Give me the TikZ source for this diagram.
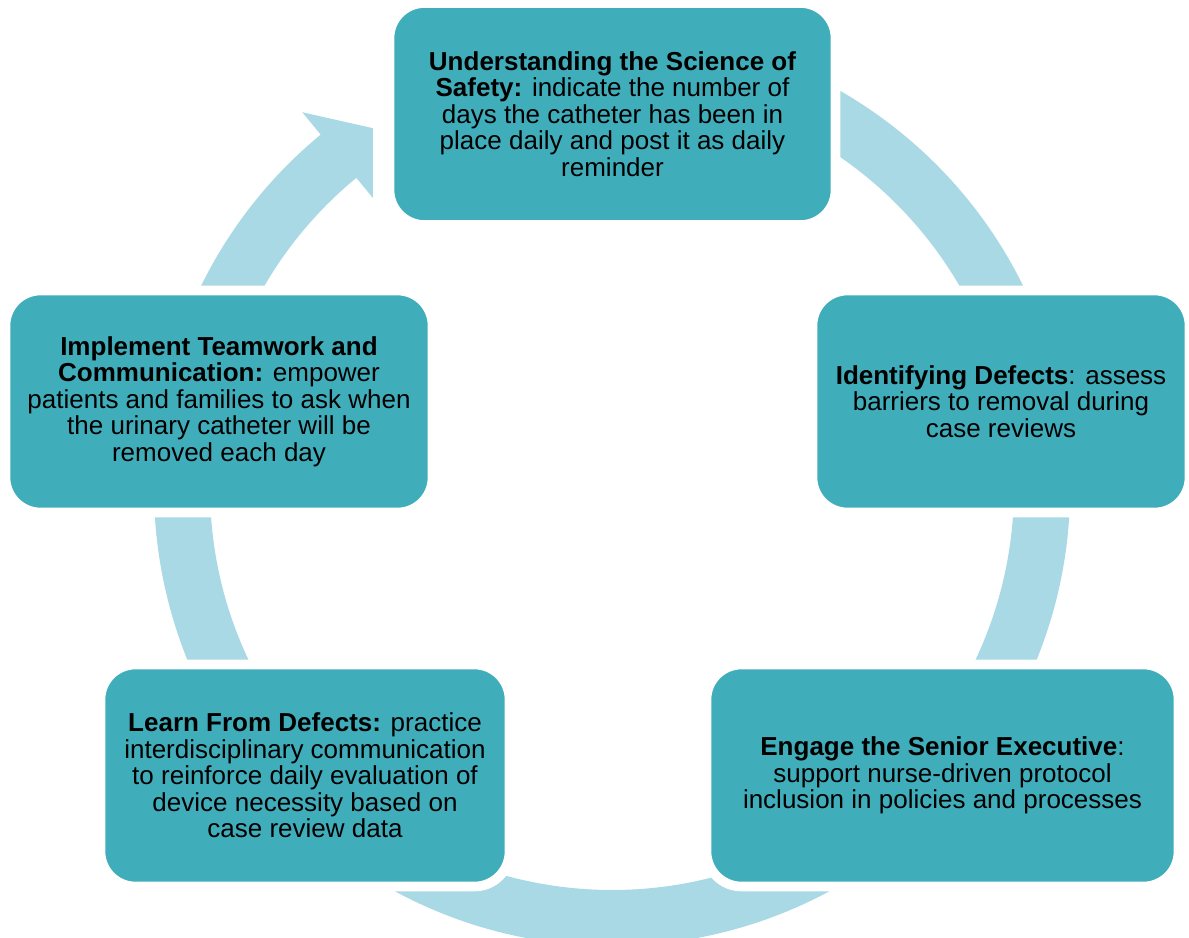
\documentclass[tikz,border=0pt]{standalone}
\usepackage{fontspec}
\setmainfont{Liberation Sans}
\usepackage{tikz}
\usetikzlibrary{calc}

\definecolor{stagefill}{HTML}{40ADBB}
\definecolor{ringfill}{HTML}{A8D9E5}

\begin{document}
\begin{tikzpicture}
    \tikzstyle{stage}=[rectangle, rounded corners=0.7cm, fill=stagefill, draw=white, line width=5.5pt,
        minimum height=4.44cm, align=center, text=black, font=\fontsize{14.8}{15.1}\selectfont]
    \useasboundingbox (0,0) rectangle (23.78,-18.76);
    \begin{scope}
    \clip (0,0) rectangle (23.78,-18.76);
    % the cycle ring, running clockwise into the top stage
    \coordinate (hub) at (12.24,-9.76);
    \fill[ringfill] ($(hub)+(100:9.16)$) arc[start angle=100, end angle=-230.5, radius=9.16]
        -- ($(hub)+(-230.5:9.74)$) -- ($(hub)+(-236.4:8.64)$) -- ($(hub)+(-230.5:7.52)$)
        -- ($(hub)+(-230.5:8.04)$) arc[start angle=-230.5, end angle=100, radius=8.04] -- cycle;
    \end{scope}
    \draw (12.25,-2.28) node[stage, minimum width=8.92cm] (science)
        {\textbf{Understanding the Science of}\\ \textbf{Safety:} indicate the number of\\
         days the catheter has been in\\ place daily and post it as daily\\ reminder};
    \draw (20.02,-8.03) node[stage, minimum width=7.54cm] (identify)
        {\textbf{Identifying Defects}: assess\\ barriers to removal during\\ case reviews};
    \draw (18.85,-15.51) node[stage, minimum width=9.44cm] (engage)
        {\textbf{Engage the Senior Executive}:\\ support nurse-driven protocol\\
         inclusion in policies and processes};
    \draw (6.10,-15.51) node[stage, minimum width=8.18cm] (learn)
        {\textbf{Learn From Defects:} practice\\ interdisciplinary communication\\
         to reinforce daily evaluation of\\ device necessity based on\\ case review data};
    \draw (4.38,-8.03) node[stage, minimum width=8.54cm] (teamwork)
        {\textbf{Implement Teamwork and}\\ \textbf{Communication:} empower\\
         patients and families to ask when\\ the urinary catheter will be\\ removed each day};
\end{tikzpicture}
\end{document}
